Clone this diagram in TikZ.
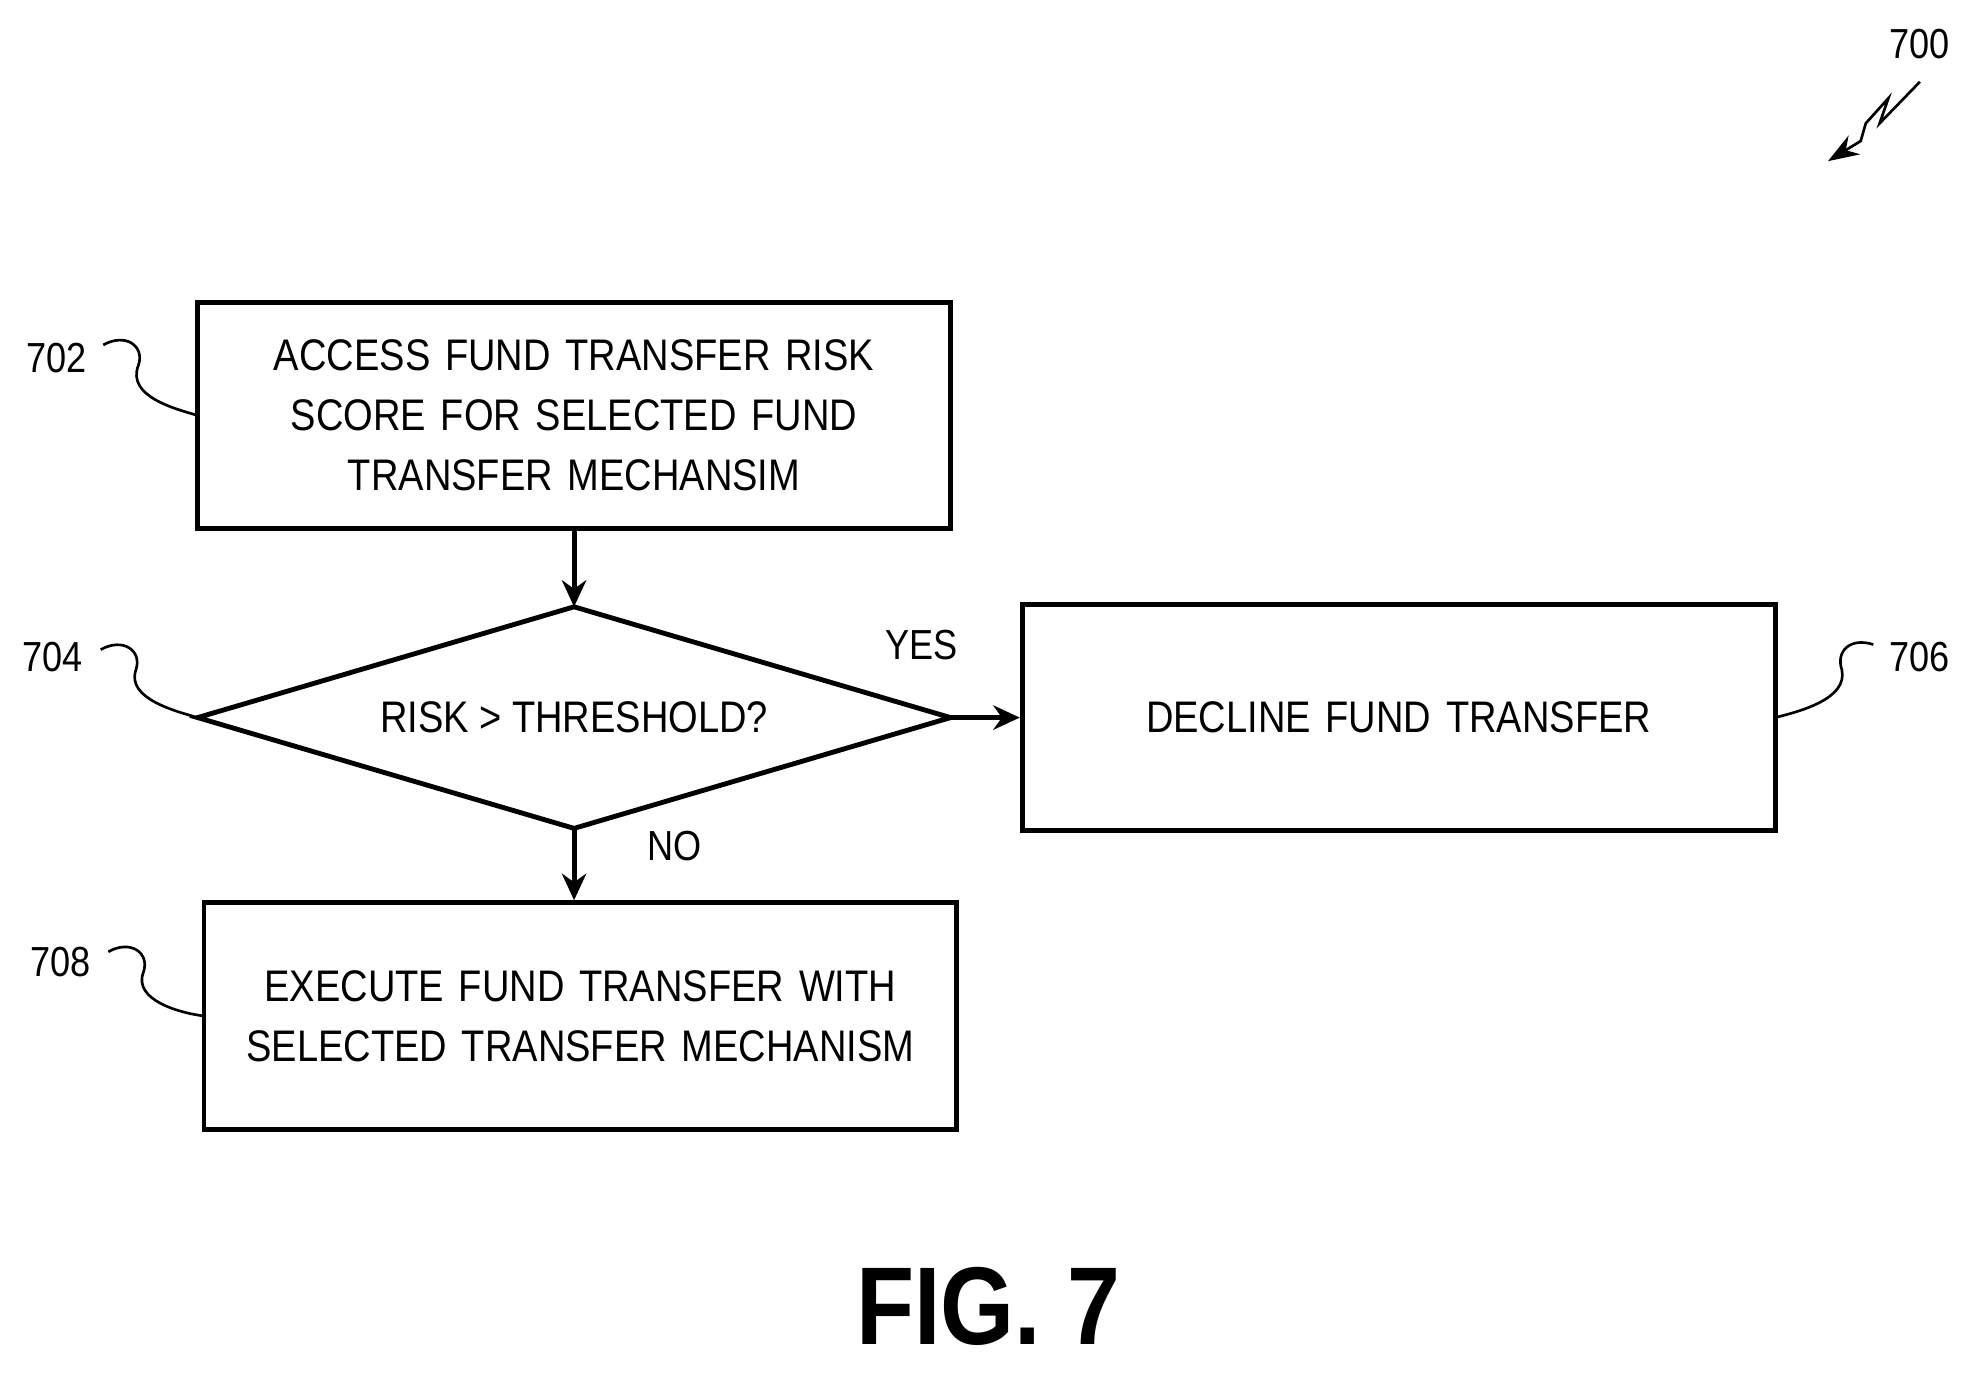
\documentclass[tikz,border=0pt]{standalone}
\usepackage{fontspec}
\setmainfont{Liberation Sans}[FakeStretch=0.86]
\newfontfamily\figfont{Liberation Sans}[FakeStretch=0.86]
\usetikzlibrary{shapes.geometric,arrows.meta}
\begin{document}
\begin{tikzpicture}[x=0.02cm,y=-0.02cm,
  box/.style={draw,line width=2.2pt,font=\fontsize{20}{27}\selectfont,align=center,inner sep=0,text width=590*0.02cm},
  lbl/.style={font=\fontsize{19}{22}\selectfont},
  lead/.style={line width=1.2pt},
  arr/.style={line width=2.2pt,-{Stealth[length=12pt,width=11pt]}}]
\useasboundingbox (0,0) rectangle (1568,1091);
\node[box,minimum width=598*0.02cm,minimum height=179*0.02cm] (b702) at (456,330) {ACCESS FUND TRANSFER RISK\\SCORE FOR SELECTED FUND\\TRANSFER MECHANSIM};
\coordinate (dl) at (157,570); \coordinate (dt) at (456,482); \coordinate (dr) at (755,570); \coordinate (db) at (456,658);
\draw[line width=2.2pt] (dl)--(dt)--(dr)--(db)--cycle;
\node[font=\fontsize{20}{24}\selectfont] (d704) at (456,570) {RISK > THRESHOLD?};
\node[box,minimum width=598*0.02cm,minimum height=180*0.02cm] (b706) at (1111,570) {DECLINE FUND TRANSFER};
\node[box,minimum width=598*0.02cm,minimum height=180*0.02cm] (b708) at (461,807) {EXECUTE FUND TRANSFER WITH\\SELECTED TRANSFER MECHANISM};
\draw[arr] (b702.south) -- (dt);
\draw[arr] (dr) -- (b706.west);
\draw[arr] (db) -- (b708.north -| db);
\node[lbl] (yes) at (732,512) {YES};
\node[lbl] (no) at (536,672) {NO};
\node[lbl] (l702) at (45,284) {702};
\node[lbl] (l704) at (42,522) {704};
\node[lbl] (l706) at (1525,522) {706};
\node[lbl] (l708) at (48,764) {708};
\node[lbl] (l700) at (1525,35) {700};
\draw[lead] (82,274) .. controls (100,264) and (115,275) .. (110,290) .. controls (100,315) and (140,325) .. (157,330);
\draw[lead] (80,516) .. controls (98,506) and (113,517) .. (108,532) .. controls (100,555) and (140,565) .. (157,570);
\draw[lead] (1488,512) .. controls (1470,506) and (1458,517) .. (1463,532) .. controls (1468,555) and (1430,565) .. (1410,570);
\draw[lead] (86,756) .. controls (104,746) and (119,757) .. (114,772) .. controls (105,795) and (145,805) .. (162,807);
\coordinate (a1) at (1525,65); \coordinate (a2) at (1452,128);
\draw[lead,-{Stealth[length=14pt,width=10pt]}] (a1) -- (1493,98) -- (1500,78) -- (1482,98) -- (1478,112) -- (a2);
\node[font=\figfont\bfseries\fontsize{50}{54}\selectfont] (fig) at (785,1038) {FIG. 7};
\end{tikzpicture}
\end{document}
